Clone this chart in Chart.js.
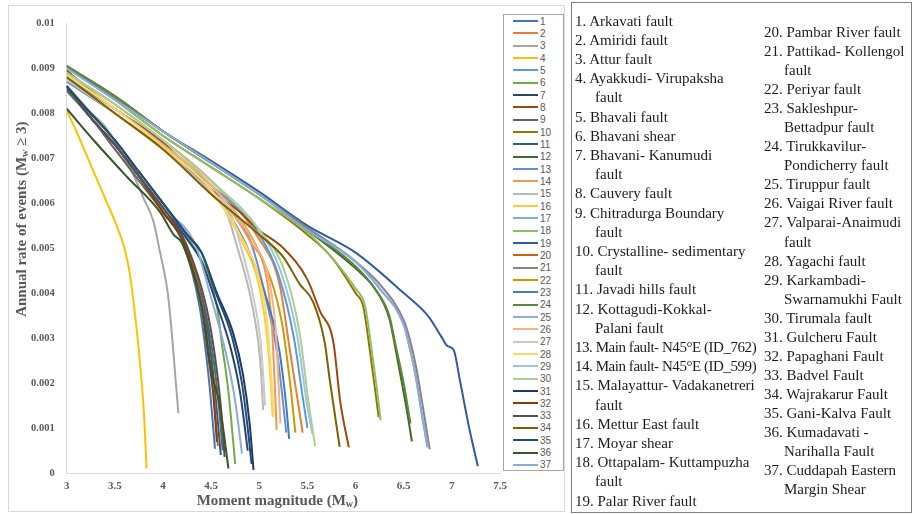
<!DOCTYPE html>
<html>
<head>
<meta charset="utf-8">
<title>Annual rate of events vs moment magnitude</title>
<script src="https://cdn.jsdelivr.net/npm/chart.js@4.4.1/dist/chart.umd.min.js"></script>
<style>
  body { margin: 0; background: #fff; width: 912px; height: 514px; overflow: hidden; position: relative; font-family: 'Liberation Serif', serif; }
  #frame { position: absolute; left: 8px; top: 5px; width: 557px; height: 507px; box-sizing: border-box; border: 1px solid #d9d9d9; pointer-events: none; }
  #chartWrap { position: absolute; left: 8px; top: 5px; width: 557px; height: 505px; }
  #legend { position: absolute; left: 503px; top: 14px; width: 61px; height: 457px; box-sizing: border-box; border: 1px solid #a6a6a6; background: #fff; }
  #legend ul { list-style: none; margin: 0; padding: 0; }
  #legend li { height: 12.33px; display: flex; align-items: center; padding-left: 9px; font: 10px 'Liberation Sans', sans-serif; color: #595959; }
  #legend .sw { display: inline-block; width: 25px; height: 2px; margin-right: 2px; }
  #names { position: absolute; left: 571px; top: 2px; width: 341px; height: 511px; box-sizing: border-box; border: 1.5px solid #808080; }
  .col { position: absolute; font-size: 15px; color: #1c1c1c; white-space: pre; }
  .col div { padding-left: 20px; text-indent: -20px; }
  #col1 { left: 3px; top: 8.5px; line-height: 19.2px; }
  #col2 { left: 192px; top: 20px; line-height: 19.05px; }
  #col1 div:nth-child(13), #col1 div:nth-child(14) { letter-spacing: -0.45px; }
</style>
</head>
<body>
<div id="chartWrap"><canvas id="rateChart"></canvas></div>
<div id="frame"></div>
<div id="legend"><ul></ul></div>
<div id="names"><div class="col" id="col1"></div><div class="col" id="col2"></div></div>
<script>
// fault names as printed in the side list (\n = line break in the list)
const faultNames = [
  'Arkavati fault', 'Amiridi fault', 'Attur fault', 'Ayakkudi- Virupaksha\nfault',
  'Bhavali fault', 'Bhavani shear', 'Bhavani- Kanumudi\nfault', 'Cauvery fault',
  'Chitradurga Boundary\nfault', 'Crystalline- sedimentary\nfault', 'Javadi hills fault',
  'Kottagudi-Kokkal-\nPalani fault', 'Main fault- N45°E (ID_762)', 'Main fault- N45°E (ID_599)',
  'Malayattur- Vadakanetreri\nfault', 'Mettur East fault', 'Moyar shear',
  'Ottapalam- Kuttampuzha\nfault', 'Palar River fault', 'Pambar River fault',
  'Pattikad- Kollengol\nfault', 'Periyar fault', 'Sakleshpur-\nBettadpur fault',
  'Tirukkavilur-\nPondicherry fault', 'Tiruppur fault', 'Vaigai River fault',
  'Valparai-Anaimudi\nfault', 'Yagachi fault', 'Karkambadi-\nSwarnamukhi Fault',
  'Tirumala fault', 'Gulcheru Fault', 'Papaghani Fault', 'Badvel Fault',
  'Wajrakarur Fault', 'Gani-Kalva Fault', 'Kumadavati -\nNarihalla Fault',
  'Cuddapah Eastern\nMargin Shear'
];

// x axis ticks (Mw) and y axis ticks (annual rate)
const xTicks = [3, 3.5, 4, 4.5, 5, 5.5, 6, 6.5, 7, 7.5];
const yTicks = [0, 0.001, 0.002, 0.003, 0.004, 0.005, 0.006, 0.007, 0.008, 0.009, 0.01];

// [Mw, annual rate], one array per fault
const f1 = [[3,0.0086],[3.25,0.0079],[3.5,0.0073],[3.75,0.0066],[4,0.0058],[4.21,0.0051],[4.38,0.0037],[4.45,0.0026],[4.49,0.0018],[4.54,0.00054]];
const f2 = [[3,0.0089],[3.5,0.0082],[4,0.0074],[4.5,0.0065],[5,0.0052],[5.21,0.0042],[5.32,0.0027],[5.4,0.0016],[5.45,0.0009]];
const f3 = [[3,0.0086],[3.2,0.0081],[3.4,0.0077],[3.6,0.007],[3.7,0.0066],[3.8,0.0061],[3.9,0.0056],[3.97,0.0049],[4.05,0.004],[4.1,0.0029],[4.13,0.0021],[4.16,0.00133]];
const f4 = [[3,0.00805],[3.1,0.0076],[3.2,0.0071],[3.3,0.0066],[3.4,0.0061],[3.5,0.0056],[3.6,0.005],[3.65,0.0045],[3.7,0.0037],[3.75,0.0027],[3.8,0.0014],[3.83,0.0001]];
const f5 = [[3,0.0088],[3.5,0.0081],[4,0.0073],[4.5,0.0064],[5,0.0053],[5.2,0.0044],[5.36,0.003],[5.45,0.0017],[5.5,0.001]];
const f6 = [[3,0.0086],[3.25,0.0079],[3.5,0.0073],[3.75,0.0066],[4,0.0059],[4.3,0.0051],[4.56,0.0037],[4.61,0.0029],[4.68,0.0018],[4.75,0.0002]];
const f7 = [[3,0.00855],[3.25,0.0079],[3.5,0.0073],[3.75,0.0066],[4,0.0059],[4.25,0.0052],[4.4,0.0047],[4.55,0.0038],[4.7,0.0028],[4.8,0.0018],[4.88,0.0005]];
const f8 = [[3,0.00895],[3.25,0.0085],[3.5,0.0081],[4,0.00735],[4.5,0.0063],[4.8,0.0058],[5,0.0054],[5.25,0.005],[5.5,0.0043],[5.63,0.0036],[5.77,0.0029],[5.84,0.0016],[5.93,0.00057]];
const f9 = [[3,0.0085],[3.25,0.0079],[3.5,0.0072],[3.75,0.0065],[4,0.0058],[4.22,0.0051],[4.43,0.0037],[4.52,0.0026],[4.58,0.0015],[4.62,0.0005]];
const f10 = [[3,0.00905],[3.5,0.0083],[4,0.0075],[4.5,0.0068],[5,0.0061],[5.5,0.0053],[5.75,0.0048],[6,0.004],[6.08,0.0037],[6.15,0.0027],[6.2,0.0019],[6.24,0.00124]];
const f11 = [[3,0.0086],[3.25,0.0079],[3.5,0.0073],[3.75,0.0066],[4,0.0058],[4.23,0.0051],[4.42,0.0037],[4.5,0.0026],[4.55,0.0016],[4.6,0.0004]];
const f12 = [[3,0.00905],[3.5,0.00838],[4,0.0076],[4.5,0.0069],[5,0.0062],[5.5,0.0054],[6,0.00455],[6.2,0.0041],[6.35,0.00344],[6.42,0.0027],[6.49,0.0019],[6.54,0.0013],[6.585,0.0007]];
const f13 = [[3,0.0087],[3.5,0.008],[4,0.0072],[4.5,0.0063],[4.9,0.0052],[5.12,0.0034],[5.19,0.0026],[5.25,0.0015],[5.28,0.0009]];
const f14 = [[3,0.0088],[3.5,0.0081],[4,0.0073],[4.5,0.0064],[4.92,0.0051],[5.07,0.0044],[5.13,0.0033],[5.16,0.002],[5.18,0.00096]];
const f15 = [[3,0.0088],[3.5,0.008],[4,0.0072],[4.5,0.0062],[4.66,0.0058],[4.76,0.0051],[4.9,0.004],[4.99,0.0029],[5.02,0.0022],[5.04,0.0014]];
const f16 = [[3,0.0088],[3.5,0.008],[4,0.0072],[4.5,0.0063],[4.83,0.0051],[4.97,0.0044],[5.06,0.0034],[5.11,0.0023],[5.14,0.00125]];
const f17 = [[3,0.00905],[3.5,0.00835],[4,0.0076],[4.5,0.0069],[5,0.0062],[5.5,0.00545],[6,0.0047],[6.25,0.0041],[6.5,0.0033],[6.55,0.0029],[6.62,0.0022],[6.68,0.0014],[6.745,0.00057]];
const f18 = [[3,0.009],[3.5,0.0083],[4,0.0075],[4.5,0.0068],[5,0.0061],[5.5,0.00535],[5.75,0.0048],[6,0.0041],[6.1,0.0037],[6.17,0.0027],[6.22,0.0019],[6.26,0.00117]];
const f19 = [[3,0.00905],[3.5,0.00835],[4,0.0076],[4.5,0.00694],[5,0.00625],[5.5,0.0055],[6,0.0049],[6.5,0.004],[6.75,0.0035],[6.9,0.003],[6.95,0.00283],[7.02,0.00273],[7.08,0.0021],[7.18,0.001],[7.27,0.00015]];
const f20 = [[3,0.0086],[3.25,0.0079],[3.5,0.0073],[3.75,0.0066],[4,0.0058],[4.23,0.0051],[4.41,0.0037],[4.48,0.0026],[4.53,0.0017],[4.57,0.0006]];
const f21 = [[3,0.00905],[3.5,0.00835],[4,0.0076],[4.5,0.0069],[5,0.0062],[5.5,0.00545],[6,0.0047],[6.25,0.0042],[6.5,0.0034],[6.56,0.003],[6.63,0.00234],[6.7,0.00146],[6.77,0.00053]];
const f22 = [[3,0.0088],[3.5,0.0081],[4,0.0073],[4.5,0.0064],[5,0.0049],[5.23,0.0034],[5.32,0.002],[5.375,0.0009]];
const f23 = [[3,0.0088],[3.5,0.0081],[4,0.0073],[4.5,0.0063],[4.9,0.0049],[5.14,0.0034],[5.21,0.0027],[5.28,0.0015],[5.31,0.00076]];
const f24 = [[3,0.00905],[3.5,0.00838],[4,0.0076],[4.5,0.0069],[5,0.0062],[5.5,0.0054],[6,0.0046],[6.2,0.0041],[6.35,0.0035],[6.42,0.0028],[6.5,0.002],[6.57,0.0011]];
const f25 = [[3,0.0086],[3.25,0.0079],[3.5,0.0073],[3.75,0.0066],[4,0.0059],[4.33,0.0051],[4.5,0.0039],[4.66,0.0026],[4.75,0.0016],[4.82,0.00043]];
const f26 = [[3,0.00885],[3.5,0.0081],[4,0.0073],[4.5,0.0064],[4.95,0.0051],[5.1,0.0043],[5.17,0.0032],[5.2,0.002],[5.22,0.0011]];
const f27 = [[3,0.00875],[3.5,0.008],[4,0.0072],[4.5,0.00625],[4.7,0.0058],[4.8,0.0051],[4.93,0.004],[5.01,0.003],[5.04,0.0022],[5.06,0.0015]];
const f28 = [[3,0.00885],[3.5,0.0081],[4,0.00725],[4.5,0.0063],[4.85,0.0051],[4.99,0.0044],[5.08,0.0034],[5.12,0.0023],[5.15,0.0013]];
const f29 = [[3,0.0089],[3.5,0.0082],[4,0.0074],[4.5,0.0065],[5,0.0054],[5.22,0.0045],[5.39,0.0031],[5.49,0.0016],[5.55,0.00088]];
const f30 = [[3,0.0089],[3.5,0.0082],[4,0.0074],[4.5,0.0065],[5,0.0054],[5.26,0.0045],[5.42,0.0031],[5.51,0.0016],[5.58,0.0006]];
const f31 = [[3,0.0086],[3.25,0.008],[3.5,0.0074],[3.75,0.0067],[4,0.006],[4.25,0.0053],[4.4,0.0049],[4.56,0.004],[4.73,0.0031],[4.83,0.0022],[4.9,0.0011],[4.94,0.00007]];
const f32 = [[3,0.0086],[3.25,0.0079],[3.5,0.0073],[3.75,0.0066],[4,0.0058],[4.22,0.0051],[4.4,0.0037],[4.47,0.0026],[4.52,0.0018],[4.56,0.00069]];
const f33 = [[3,0.0086],[3.25,0.0079],[3.5,0.0073],[3.75,0.0066],[4,0.0059],[4.24,0.0051],[4.45,0.0037],[4.54,0.0026],[4.6,0.0015],[4.64,0.00036]];
const f34 = [[3,0.0088],[3.5,0.008],[4,0.0072],[4.5,0.0062],[5,0.0053],[5.25,0.0048],[5.42,0.0042],[5.56,0.0038],[5.68,0.0029],[5.73,0.0021],[5.835,0.00058]];
const f35 = [[3,0.0086],[3.25,0.008],[3.5,0.0074],[3.75,0.0067],[4,0.006],[4.25,0.0053],[4.4,0.0049],[4.55,0.004],[4.72,0.003],[4.82,0.002],[4.88,0.001],[4.92,0.0002]];
const f36 = [[3,0.0081],[3.28,0.0074],[3.62,0.0066],[3.97,0.0058],[4.11,0.0053],[4.2,0.0051],[4.42,0.0035],[4.5,0.0023],[4.59,0.0015],[4.68,0.0001]];
const f37 = [[3,0.009],[3.5,0.0083],[4,0.0076],[4.5,0.0069],[5,0.0062],[5.5,0.0054],[6,0.0047],[6.25,0.0041],[6.5,0.0033],[6.56,0.0028],[6.63,0.0021],[6.69,0.0013],[6.75,0.0006]];

const seriesPoints = [f1, f2, f3, f4, f5, f6, f7, f8, f9, f10, f11, f12, f13, f14, f15, f16, f17, f18, f19,
  f20, f21, f22, f23, f24, f25, f26, f27, f28, f29, f30, f31, f32, f33, f34, f35, f36, f37];

// office-like colour cycle for 37 series
const palette = [
  '#4472C4', '#ED7D31', '#A5A5A5', '#FFC000', '#5B9BD5', '#70AD47',
  '#264478', '#9E480E', '#636363', '#997300', '#255E91', '#43682B',
  '#698ED0', '#F1975A', '#B7B7B7', '#FFCD33', '#7CAFDD', '#8CC168',
  '#335AA1', '#D26012', '#848484', '#CC9A00', '#3C7DC4', '#5A8A39',
  '#8FAADC', '#F4B183', '#C9C9C9', '#FFD966', '#9DC3E6', '#A9D18E',
  '#203864', '#843C0C', '#525252', '#7F6000', '#1F4E79', '#375623',
  '#8EA9DB'
];

// side list, split in two columns like the figure
function fillNames(el, from, to) {
  for (let i = from; i < to; i++) {
    const d = document.createElement('div');
    d.textContent = (i + 1) + '. ' + faultNames[i];
    el.appendChild(d);
  }
}
fillNames(document.getElementById('col1'), 0, 19);
fillNames(document.getElementById('col2'), 19, 37);

// legend built from the datasets (numbers only)
const htmlLegend = {
  id: 'htmlLegend',
  afterUpdate(chart) {
    const ul = document.querySelector('#legend ul');
    ul.innerHTML = '';
    chart.data.datasets.forEach(ds => {
      const li = document.createElement('li');
      const sw = document.createElement('span');
      sw.className = 'sw';
      sw.style.background = ds.borderColor;
      li.appendChild(sw);
      li.appendChild(document.createTextNode(ds.label));
      ul.appendChild(li);
    });
  }
};

// axis titles with the subscript w
const xTitleRuns = [
  { t: 'Moment magnitude (M', size: 15, dy: 0 },
  { t: 'w', size: 10, dy: 3 },
  { t: ')', size: 15, dy: 0 }
];
const yTitleRuns = [
  { t: 'Annual rate of events (M', size: 15, dy: 0 },
  { t: 'w', size: 10, dy: 3 },
  { t: ' \u2265 3)', size: 15, dy: 0 }
];

function drawRuns(ctx, runs, cx, cy) {
  let total = 0;
  runs.forEach(r => {
    ctx.font = 'bold ' + r.size + "px 'Liberation Serif'";
    r.w = ctx.measureText(r.t).width;
    total += r.w;
  });
  let x = cx - total / 2;
  runs.forEach(r => {
    ctx.font = 'bold ' + r.size + "px 'Liberation Serif'";
    ctx.fillText(r.t, x, cy + r.dy);
    x += r.w;
  });
}

const axisTitles = {
  id: 'axisTitles',
  afterDraw(chart) {
    const ctx = chart.ctx;
    const area = chart.chartArea;
    ctx.save();
    ctx.fillStyle = '#595959';
    ctx.textAlign = 'left';
    ctx.textBaseline = 'middle';
    drawRuns(ctx, xTitleRuns, (area.left + area.right) / 2 - 6, chart.height - 9);
    ctx.translate(14, (area.top + area.bottom) / 2 - 29);
    ctx.rotate(-Math.PI / 2);
    drawRuns(ctx, yTitleRuns, 0, 0);
    ctx.restore();
  }
};

const tickFont = { family: "'Liberation Serif'", size: 11, weight: 'bold' };

const ctx = document.getElementById('rateChart').getContext('2d');
const chart = new Chart(ctx, {
  type: 'line',
  data: {
    datasets: seriesPoints.map((pts, i) => ({
      label: String(i + 1),
      data: pts.map(p => ({ x: p[0], y: p[1] })),
      borderColor: palette[i],
      backgroundColor: palette[i],
      borderWidth: 2,
      pointRadius: 0,
      fill: false,
      cubicInterpolationMode: 'monotone',
      order: seriesPoints.length - i
    }))
  },
  options: {
    responsive: true,
    maintainAspectRatio: false,
    animation: false,
    layout: { padding: { left: 0, right: 65, top: 14, bottom: 0 } },
    plugins: {
      legend: { display: false },
      tooltip: { enabled: false }
    },
    scales: {
      x: {
        type: 'linear',
        min: xTicks[0],
        max: xTicks[xTicks.length - 1],
        afterBuildTicks: s => { s.ticks = xTicks.map(v => ({ value: v })); },
        afterFit: s => { s.height = 37; },
        grid: { display: false, drawTicks: false },
        border: { color: '#d9d9d9', width: 1 },
        ticks: { padding: 7, color: '#595959', font: tickFont, callback: v => String(v) }
      },
      y: {
        min: yTicks[0],
        max: yTicks[yTicks.length - 1],
        afterBuildTicks: s => { s.ticks = yTicks.map(v => ({ value: v })); },
        afterFit: s => { s.width = 58.7; },
        grid: { display: false, drawTicks: false },
        border: { color: '#d9d9d9', width: 1 },
        ticks: { padding: 12, color: '#595959', font: { family: "'Liberation Serif'", size: 10.5, weight: 'bold' },
          callback: v => String(+v.toFixed(3)) }
      }
    }
  },
  plugins: [htmlLegend, axisTitles]
});
</script>
</body>
</html>
